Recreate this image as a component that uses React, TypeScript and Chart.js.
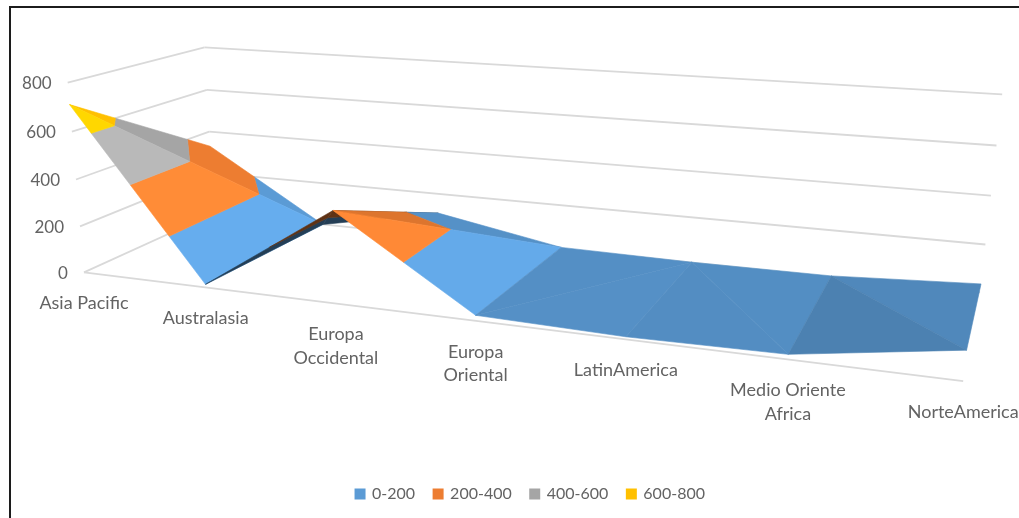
import React, { useEffect, useRef } from "react";
import { Chart, registerables } from "chart.js";

Chart.register(...registerables);

const categoryLines = [
  ["Asia Pacific"],
  ["Australasia"],
  ["Europa", "Occidental"],
  ["Europa", "Oriental"],
  ["LatinAmerica"],
  ["Medio Oriente", "Africa"],
  ["NorteAmerica"],
];
const frontValues = [711, 13, 377, 22, 10, 19, 111];
const backValues = [330, 0, 110, 8, 2, 5, 36];
// true: the cell folds from its front-left corner to its back-right corner.
const foldFromFront = [true, false, true, true, false, false];
const valueTicks = [0, 200, 400, 600, 800];
const bandLabels = ["0-200", "200-400", "400-600", "600-800"];
const bandColors = [
  [91, 155, 213],
  [237, 125, 49],
  [165, 165, 165],
  [255, 192, 0],
];

const WIDTH = 1019;
const HEIGHT = 518;
const VALUE_MAX = 800;
const LEGEND_INSET = 42;
const GRID_COLOR = "#D9D9D9";
const TEXT_COLOR = "#636363";
const FONT_FAMILY = 'Lato, "Open Sans", sans-serif';

type Vertex = { c: number; d: number; v: number };
type Pt = { x: number; y: number };

// Perspective camera: c runs along the categories, d into the depth, v up the value axis (all 0..1).
function project({ c, d, v }: Vertex): Pt {
  const w = 1 - 0.1967 * c + 0.1518 * d - 0.04 * v;
  return {
    x: (84 + 690.4 * c + 162.5 * d - 19 * v) / w,
    y: (272 + 34 * c - 27 * d - 193.3 * v) / w,
  };
}

// Keeps the part of a triangle whose value lies between lo and hi.
function clipToBand(poly: Vertex[], lo: number, hi: number): Vertex[] {
  const clip = (input: Vertex[], inside: (p: Vertex) => boolean, edge: number) => {
    const out: Vertex[] = [];
    input.forEach((p, i) => {
      const q = input[(i + 1) % input.length];
      if (inside(p)) out.push(p);
      if (inside(p) !== inside(q)) {
        const t = (edge - p.v) / (q.v - p.v);
        out.push({ c: p.c + (q.c - p.c) * t, d: p.d + (q.d - p.d) * t, v: edge });
      }
    });
    return out;
  };
  return clip(clip(poly, (p) => p.v >= lo, lo), (p) => p.v <= hi, hi);
}

// Lit brightness of a facet; faces turned away from the viewer fall into shadow.
function facetBrightness(tri: Vertex[]): number {
  const [a, b, c] = tri.map(project);
  const area = (b.x - a.x) * (c.y - a.y) - (b.y - a.y) * (c.x - a.x);
  if (area > 0) return 0.4;
  const cells = categoryLines.length - 1;
  const heightScale = VALUE_MAX / 300;
  const u = [(tri[1].c - tri[0].c) * cells, tri[1].d - tri[0].d, (tri[1].v - tri[0].v) * heightScale];
  const w = [(tri[2].c - tri[0].c) * cells, tri[2].d - tri[0].d, (tri[2].v - tri[0].v) * heightScale];
  const n = [u[1] * w[2] - u[2] * w[1], u[2] * w[0] - u[0] * w[2], u[0] * w[1] - u[1] * w[0]];
  const len = Math.hypot(n[0], n[1], n[2]) || 1;
  return 0.82 + (0.283 * n[0] - 0.045 * n[1] + 0.1 * n[2]) / len;
}

const tint = (rgb: number[], k: number) =>
  `rgb(${rgb.map((ch) => Math.min(255, Math.round(ch * k))).join(",")})`;

function surfaceDatasets() {
  const cells = categoryLines.length - 1;
  const out: any[] = [];
  for (let i = 0; i < cells; i++) {
    const vertex = (col: number, d: number): Vertex => ({
      c: col / cells,
      d,
      v: (d === 0 ? frontValues[col] : backValues[col]) / VALUE_MAX,
    });
    const fl = vertex(i, 0);
    const fr = vertex(i + 1, 0);
    const bl = vertex(i, 1);
    const br = vertex(i + 1, 1);
    const facets = foldFromFront[i]
      ? [[fl, br, bl], [fl, fr, br]]
      : [[bl, fr, br], [fl, fr, bl]];
    for (const tri of facets) {
      const k = facetBrightness(tri);
      bandColors.forEach((rgb, band) => {
        const step = 200 / VALUE_MAX;
        const poly = clipToBand(tri, band * step, (band + 1) * step);
        if (poly.length < 3) return;
        const pts = poly.map(project);
        const color = tint(rgb, k);
        out.push({
          data: [...pts, pts[0]],
          showLine: true,
          fill: "shape",
          backgroundColor: color,
          borderColor: color,
          borderWidth: 0.6,
          pointRadius: 0,
        });
      });
    }
  }
  return out;
}

function gridDatasets() {
  const line = (a: Vertex, b: Vertex) => ({
    data: [project(a), project(b)],
    showLine: true,
    fill: false,
    borderColor: GRID_COLOR,
    borderWidth: 1.8,
    pointRadius: 0,
  });
  const out: any[] = [];
  for (const tick of valueTicks) {
    const v = tick / VALUE_MAX;
    out.push(line({ c: 0, d: 0, v }, { c: 0, d: 1, v }));
    out.push(line({ c: 0, d: 1, v }, { c: 1, d: 1, v }));
  }
  out.push(line({ c: 0, d: 0, v: 0 }, { c: 1, d: 0, v: 0 }));
  return out;
}

const axisLabels = {
  id: "axisLabels",
  afterDatasetsDraw(chart: any) {
    const { ctx, scales } = chart;
    const at = (p: Pt) => ({ x: scales.x.getPixelForValue(p.x), y: scales.y.getPixelForValue(p.y) });
    ctx.save();
    ctx.fillStyle = TEXT_COLOR;
    ctx.textBaseline = "middle";
    ctx.textAlign = "right";
    ctx.font = `17px ${FONT_FAMILY}`;
    for (const tick of valueTicks) {
      const p = at(project({ c: 0, d: 0, v: tick / VALUE_MAX }));
      ctx.fillText(String(tick), p.x - 16, p.y + 1);
    }
    ctx.textAlign = "center";
    ctx.font = `18px ${FONT_FAMILY}`;
    categoryLines.forEach((lines, i) => {
      const p = at(project({ c: i / (categoryLines.length - 1), d: 0, v: 0 }));
      lines.forEach((text, row) => ctx.fillText(text, p.x, p.y + 31 + row * 23.5));
    });
    ctx.restore();
  },
};

export default function App() {
  const ref = useRef<HTMLCanvasElement>(null);
  useEffect(() => {
    const chart = new Chart(ref.current as HTMLCanvasElement, {
      type: "scatter",
      data: { datasets: [...gridDatasets(), ...surfaceDatasets()].reverse() },
      options: {
        animation: false,
        responsive: false,
        events: [],
        layout: { padding: { bottom: 6, left: LEGEND_INSET } },
        scales: {
          x: { type: "linear", display: false, min: LEGEND_INSET, max: WIDTH },
          y: { type: "linear", display: false, min: 0, max: HEIGHT, reverse: true },
        },
        plugins: {
          tooltip: { enabled: false },
          legend: {
            position: "bottom",
            labels: {
              usePointStyle: true,
              boxWidth: 8,
              boxHeight: 11,
              padding: 19,
              color: TEXT_COLOR,
              font: { family: FONT_FAMILY, size: 16 },
              generateLabels: () =>
                bandLabels.map((text, i) => ({
                  text,
                  pointStyle: "rect",
                  fillStyle: tint(bandColors[i], 1),
                  strokeStyle: tint(bandColors[i], 1),
                  lineWidth: 0,
                  fontColor: TEXT_COLOR,
                  datasetIndex: i,
                })),
            },
          },
        },
      } as any,
      plugins: [axisLabels],
    } as any);
    // The legend takes a strip from the plot; keep one scale unit equal to one pixel.
    (chart.options.scales as any).y.max = chart.chartArea.bottom;
    chart.update();
    return () => chart.destroy();
  }, []);

  return (
    <>
      <canvas
        ref={ref}
        width={WIDTH}
        height={HEIGHT}
        style={{ position: "absolute", left: 0, top: 0, display: "block" }}
      />
      <div
        style={{
          position: "absolute",
          left: 9,
          top: 6,
          width: WIDTH - 11,
          height: HEIGHT - 8,
          borderTop: "2px solid #1c1c1c",
          borderLeft: "2px solid #1c1c1c",
          pointerEvents: "none",
        }}
      />
    </>
  );
}
